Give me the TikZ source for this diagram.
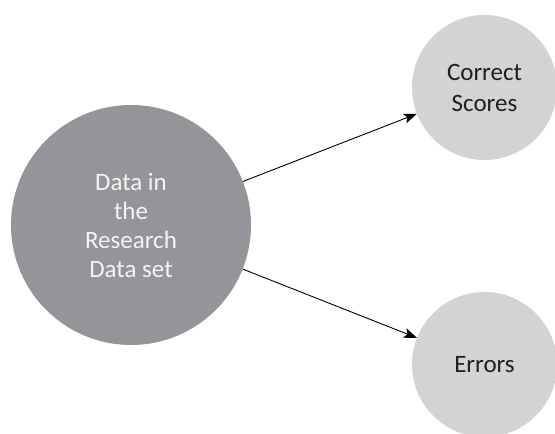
\documentclass[tikz,border=0pt]{standalone}
\usepackage{fontspec}
\setmainfont{Carlito}
\usetikzlibrary{arrows.meta}
\definecolor{darkfill}{HTML}{939598}
\definecolor{lightfill}{HTML}{D1D3D4}
\definecolor{inktext}{HTML}{231F20}
\definecolor{paletext}{HTML}{F4F4F4}
\begin{document}
\begin{tikzpicture}[x=1pt,y=-1pt,
  bigcircle/.style={circle,fill=darkfill,minimum size=240pt,inner sep=0pt,align=center,text=paletext,font=\fontsize{25}{29}\selectfont},
  smallcircle/.style={circle,fill=lightfill,minimum size=145pt,inner sep=0pt,align=center,text=inktext,font=\fontsize{25}{31}\selectfont},
  link/.style={draw=black,line width=0.9pt,-{Stealth[length=13pt,width=10pt,inset=3pt]}}]
\useasboundingbox (0,0) rectangle (555,434);
\clip (0,0) rectangle (555,434);
\fill[white] (0,0) rectangle (555,434);
\node[bigcircle] (data) at (131,225) {Data in\\the\\Research\\Data set};
\node[smallcircle] (correct) at (484.5,87.5) {Correct\\Scores};
\node[smallcircle] (errors) at (484.5,364.5) {Errors};
\draw[link] (data) -- (correct);
\draw[link] (data) -- (errors);
\end{tikzpicture}
\end{document}
